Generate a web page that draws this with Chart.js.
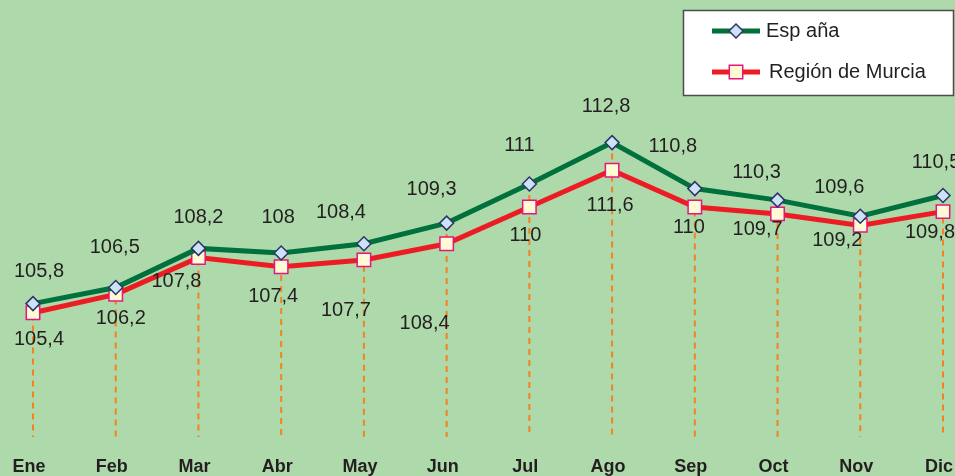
<!DOCTYPE html>
<html>
<head>
<meta charset="utf-8">
<script src="https://cdn.jsdelivr.net/npm/chart.js@4.4.1/dist/chart.umd.min.js"></script>
<style>
  html, body { margin: 0; padding: 0; background: #aed9aa; }
  #wrap { width: 955px; height: 476px; position: relative; }
</style>
</head>
<body>
<div id="wrap"><canvas id="ipcChart"></canvas></div>
<script>
// ================= Data =================
const months = ["Ene", "Feb", "Mar", "Abr", "May", "Jun", "Jul", "Ago", "Sep", "Oct", "Nov", "Dic"];
const espana = [105.8, 106.5, 108.2, 108, 108.4, 109.3, 111, 112.8, 110.8, 110.3, 109.6, 110.5];
const murcia = [105.4, 106.2, 107.8, 107.4, 107.7, 108.4, 110, 111.6, 110, 109.7, 109.2, 109.8];

// label offsets from each point (style only)
const espanaLabelShift = [[6,-32],[-1,-40],[0,-31],[-3,-36],[-23,-31],[-15,-34],[-10,-39],[-6,-36],[-22,-42],[-21,-28],[-21,-29],[-7,-33]];
const murciaLabelShift = [[6,27],[5,24],[-22,24],[-8,30],[-18,51],[-22,80],[-4,28],[-2,35],[-6,20],[-20,16],[-23,15],[-13,21]];

const fmt = v => String(v).replace(".", ",");

// ================= Plugins =================
const dropLines = {
    id: "dropLines",
    beforeDatasetsDraw(chart) {
        const ctx = chart.ctx;
        const meta = chart.getDatasetMeta(0);
        const bottom = chart.chartArea.bottom;
        ctx.save();
        ctx.strokeStyle = "#f5821f";
        ctx.lineWidth = 2;
        ctx.setLineDash([6, 5]);
        meta.data.forEach(pt => {
            ctx.beginPath();
            ctx.moveTo(pt.x, pt.y);
            ctx.lineTo(pt.x, bottom);
            ctx.stroke();
        });
        ctx.restore();
    }
};

const valueLabels = {
    id: "valueLabels",
    afterDatasetsDraw(chart) {
        const ctx = chart.ctx;
        const shifts = [espanaLabelShift, murciaLabelShift];
        ctx.save();
        ctx.font = "20px 'Liberation Sans', Arial, sans-serif";
        ctx.fillStyle = "#231f20";
        ctx.textAlign = "center";
        ctx.textBaseline = "middle";
        chart.data.datasets.forEach((ds, di) => {
            chart.getDatasetMeta(di).data.forEach((pt, i) => {
                const s = shifts[di][i];
                ctx.fillText(fmt(ds.data[i]), pt.x + s[0], pt.y + s[1]);
            });
        });
        ctx.restore();
    }
};

const boxLegend = {
    id: "boxLegend",
    afterDraw(chart) {
        const ctx = chart.ctx;
        ctx.save();
        ctx.fillStyle = "#ffffff";
        ctx.fillRect(683, 10, 271, 86);
        ctx.strokeStyle = "#4d4d4d";
        ctx.lineWidth = 1.5;
        ctx.strokeRect(683.5, 10.5, 270, 85);
        const rows = [31, 72];
        const textX = [766, 769];
        chart.data.datasets.forEach((ds, i) => {
            const y = rows[i];
            ctx.strokeStyle = ds.borderColor;
            ctx.lineWidth = 5;
            ctx.beginPath();
            ctx.moveTo(712, y);
            ctx.lineTo(760, y);
            ctx.stroke();
            ctx.fillStyle = ds.pointBackgroundColor;
            ctx.strokeStyle = ds.pointBorderColor;
            ctx.lineWidth = ds.pointBorderWidth;
            ctx.beginPath();
            if (ds.pointStyle === "rectRot") {
                const r = ds.pointRadius;
                ctx.moveTo(736, y - r); ctx.lineTo(736 + r, y);
                ctx.lineTo(736, y + r); ctx.lineTo(736 - r, y);
                ctx.closePath();
            } else {
                const h = ds.pointRadius * Math.SQRT1_2;
                ctx.rect(736 - h, y - h, 2 * h, 2 * h);
            }
            ctx.fill();
            ctx.stroke();
            ctx.fillStyle = "#231f20";
            ctx.font = "20px 'Liberation Sans', Arial, sans-serif";
            ctx.textBaseline = "middle";
            ctx.textAlign = "left";
            ctx.fillText(ds.label, textX[i], y);
        });
        ctx.restore();
    }
};

// ================= Chart =================
const ctx = document.getElementById("ipcChart").getContext("2d");
new Chart(ctx, {
    type: "line",
    data: {
        labels: months,
        datasets: [
            {
                label: "Esp aña",
                data: espana,
                borderColor: "#00703c",
                borderWidth: 5,
                pointStyle: "rectRot",
                pointRadius: 7,
                pointBorderWidth: 1.5,
                pointBackgroundColor: "#cce3f6",
                pointBorderColor: "#2e3468",
                tension: 0
            },
            {
                label: "Región de Murcia",
                data: murcia,
                borderColor: "#ed1c24",
                borderWidth: 5,
                pointStyle: "rect",
                pointRadius: 9.5,
                pointBorderWidth: 1.5,
                pointBackgroundColor: "#fffad4",
                pointBorderColor: "#e5177e",
                tension: 0
            }
        ]
    },
    options: {
        responsive: true,
        maintainAspectRatio: false,
        animation: false,
        layout: { autoPadding: false, padding: { left: 33, right: 12, top: 0, bottom: 0 } },
        plugins: { legend: { display: false }, tooltip: { enabled: false } },
        scales: {
            y: { display: false, min: 100, max: 119 },
            x: {
                offset: false,
                grid: { display: false, drawTicks: false },
                border: { display: false },
                ticks: {
                    padding: 19,
                    labelOffset: -4,
                    autoSkip: false,
                    maxRotation: 0,
                    color: "#231f20",
                    font: { family: "'Liberation Sans', Arial, sans-serif", size: 18, weight: "bold" }
                },
                afterFit(scale) {
                    scale.paddingLeft = 0;
                    scale.paddingRight = 0;
                    scale.height = 39;
                }
            }
        }
    },
    plugins: [dropLines, valueLabels, boxLegend]
});
</script>
</body>
</html>
